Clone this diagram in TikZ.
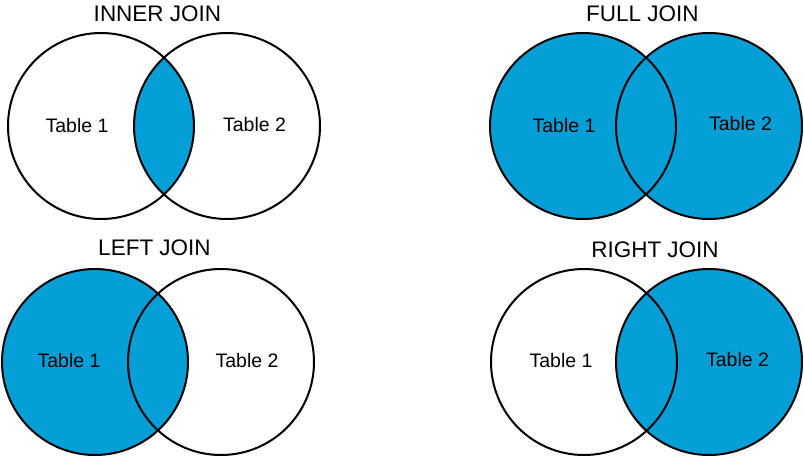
\documentclass[tikz,border=0pt]{standalone}
\usepackage{fontspec}
\setmainfont{Liberation Sans}
\definecolor{joinblue}{RGB}{5,159,215}
\begin{document}
\begin{tikzpicture}[x=1pt,y=-1pt,
  venn/.style={circle,draw=black,line width=2pt,minimum size=186pt,inner sep=0pt},
  jointitle/.style={font=\fontsize{22.5}{27}\selectfont,inner sep=0pt,anchor=base},
  tablabel/.style={font=\fontsize{19.5}{23}\selectfont,inner sep=0pt,anchor=base},
  bluefill/.style={fill=joinblue}]
\useasboundingbox (0,0) rectangle (804,458);
% ---- fills ----
% inner join
\begin{scope}
  \clip (101,126) circle[radius=93pt];
  \path[bluefill] (227,126) circle[radius=93pt];
\end{scope}
% full join
\path[bluefill] (583,126) circle[radius=93pt];
\path[bluefill] (709,126) circle[radius=93pt];
% left join
\path[bluefill] (95,362) circle[radius=93pt];
% right join
\path[bluefill] (709,362) circle[radius=93pt];
% ---- circles ----
\node[venn] (i1) at (101,126) {};
\node[venn] (i2) at (227,126) {};
\node[venn] (f1) at (583,126) {};
\node[venn] (f2) at (709,126) {};
\node[venn] (l1) at (95,362) {};
\node[venn] (l2) at (221,362) {};
\node[venn] (r1) at (584,362) {};
\node[venn] (r2) at (709,362) {};
% ---- titles ----
\node[jointitle] (ti) at (157.5,21) {INNER JOIN};
\node[jointitle] (tf) at (642.5,21) {FULL JOIN};
\node[jointitle] (tl) at (154.5,255) {LEFT JOIN};
\node[jointitle] (tr) at (655,257) {RIGHT JOIN};
% ---- labels ----
\node[tablabel] (i1t) at (77,132) {Table 1};
\node[tablabel] (i2t) at (254.5,131) {Table 2};
\node[tablabel] (f1t) at (564,132) {Table 1};
\node[tablabel] (f2t) at (740.5,130) {Table 2};
\node[tablabel] (l1t) at (69,367) {Table 1};
\node[tablabel] (l2t) at (247,367) {Table 2};
\node[tablabel] (r1t) at (561,367) {Table 1};
\node[tablabel] (r2t) at (737.5,366) {Table 2};
\end{tikzpicture}
\end{document}
